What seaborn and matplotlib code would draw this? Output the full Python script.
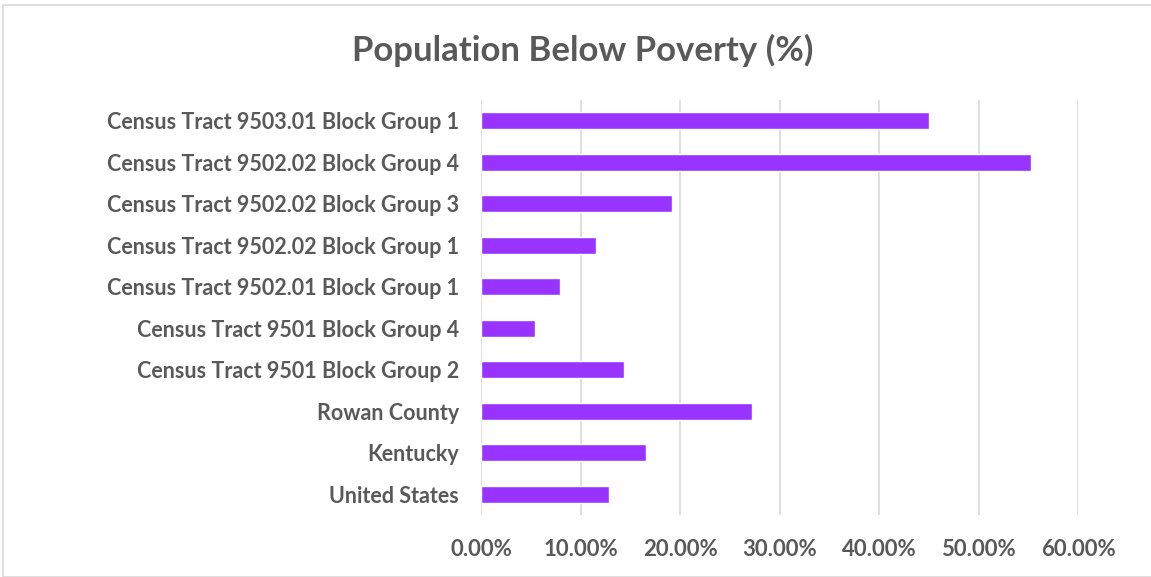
import matplotlib
matplotlib.use("Agg")
import matplotlib.pyplot as plt
import seaborn as sns
import pandas as pd
from matplotlib.ticker import FuncFormatter, MultipleLocator
from matplotlib.patches import Rectangle

categories = [
    "Census Tract 9503.01 Block Group 1",
    "Census Tract 9502.02 Block Group 4",
    "Census Tract 9502.02 Block Group 3",
    "Census Tract 9502.02 Block Group 1",
    "Census Tract 9502.01 Block Group 1",
    "Census Tract 9501 Block Group 4",
    "Census Tract 9501 Block Group 2",
    "Rowan County",
    "Kentucky",
    "United States",
]
values = [45.0, 55.3, 19.2, 11.6, 7.9, 5.4, 14.4, 27.2, 16.6, 12.9]
xticks = [0, 10, 20, 30, 40, 50, 60]
title = "Population Below Poverty (%)"

sns.set_theme(style="white")
plt.rcParams['font.family'] = ['Lato', 'DejaVu Sans']

text_color = "#595959"
df = pd.DataFrame({"cat": categories, "val": values})

fig = plt.figure(figsize=(11.51, 5.77), dpi=100)
ax = fig.add_axes([481/1151, 1 - 515/577, (1078 - 481)/1151, (515 - 100)/577])

sns.barplot(data=df, y="cat", x="val", order=categories, color="#9933FF",
            saturation=1, width=0.42, orient="h", ax=ax)

ax.set_xlim(0, 60)
ax.set_ylim(len(categories) - 0.5, -0.5)
ax.set_xticks(xticks)
ax.xaxis.set_major_formatter(FuncFormatter(lambda v, p: f"{v:.2f}%"))
ax.grid(axis="x", color="#D9D9D9", linewidth=1.2)
ax.set_axisbelow(True)
for s in ax.spines.values():
    s.set_visible(False)
ax.set_xlabel("")
ax.set_ylabel("")
ax.tick_params(axis="y", length=0, pad=16, labelsize=15.5, labelcolor=text_color)
ax.tick_params(axis="x", length=0, pad=17, labelsize=16, labelcolor=text_color)
for lab in ax.get_yticklabels() + ax.get_xticklabels():
    lab.set_fontweight("bold")

fig.text(0.506, 1 - 50/577, title, ha="center", va="center", fontsize=25,
         fontweight="bold", color=text_color)

fig.patches.append(Rectangle((3/1151, 0), 1 - 3/1151 + 0.01, 1 - 5/577,
                             transform=fig.transFigure, fill=False,
                             edgecolor="#D9D9D9", linewidth=1.2))

fig.savefig("out.png", dpi=100)
